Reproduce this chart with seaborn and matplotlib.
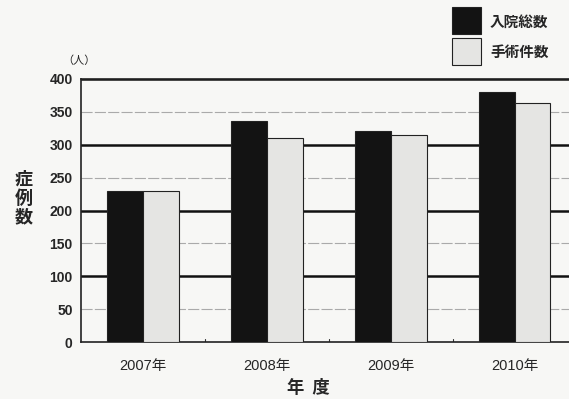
import matplotlib
matplotlib.use("Agg")
import matplotlib.pyplot as plt
import seaborn as sns
import pandas as pd
from matplotlib.patches import Rectangle

years = ["2007年", "2008年", "2009年", "2010年"]
admissions = [230, 336, 321, 380]
surgeries = [230, 311, 315, 364]
series_names = ["入院総数", "手術件数"]
y_ticks = [0, 50, 100, 150, 200, 250, 300, 350, 400]

sns.set_theme(style="white")
plt.rcParams['font.family'] = ['Liberation Sans', 'Noto Sans CJK JP', 'DejaVu Sans']
CJK = ['Noto Sans CJK JP', 'DejaVu Sans']

df = pd.DataFrame({
    "年度": years * 2,
    "症例数": admissions + surgeries,
    "種別": [series_names[0]] * len(years) + [series_names[1]] * len(years),
})

bg = "#f7f7f5"
fig = plt.figure(figsize=(5.69, 3.99), dpi=100, facecolor=bg)
ax = fig.add_axes([81/569, 1 - 342/399, 1 - 81/569, (342 - 79)/399])
ax.set_facecolor(bg)

sns.barplot(data=df, x="年度", y="症例数", hue="種別", ax=ax,
            palette=["#131313", "#e5e5e3"], width=0.58, saturation=1,
            edgecolor="#222222", linewidth=0.8, legend=False, zorder=3)

for v in y_ticks[1:]:
    if v % 100 == 0:
        ax.axhline(v, color="#111111", lw=1.8, zorder=1)
    else:
        ax.axhline(v, color="#aaaaaa", lw=0.8, ls=(0, (10, 2)), zorder=1)

ax.set_ylim(0, 400)
ax.set_xlim(-0.5, 3.44)
ax.set_yticks(y_ticks)
ax.set_yticklabels([str(v) for v in y_ticks], fontsize=10, fontweight="bold")
ax.set_xticks(range(len(years)))
ax.set_xticklabels(years, fontsize=10.5)
ax.tick_params(axis="x", length=0, pad=12)
ax.tick_params(axis="y", length=0, pad=6)
for x in [0.5, 1.5, 2.5]:
    ax.plot([x, x], [0, 4], color="#333333", lw=0.8, zorder=2)
ax.set_xlabel("")
ax.set_ylabel("")
for s in ax.spines.values():
    s.set_color("#222222")
    s.set_linewidth(1.2)
ax.spines["right"].set_visible(False)

fig.text(24/569, 1 - 198/399, "症\n例\n数", ha="center", va="center",
         fontsize=13, fontweight="bold", linespacing=1.0, family=CJK)
fig.text(79/569, 1 - 61/399, "（人）", ha="center", va="center",
         fontsize=8, family=CJK)
fig.text(308/569, 1 - 388/399, "年  度", ha="center", va="center",
         fontsize=12.5, fontweight="bold", family=CJK)

# legend
fig.patches.append(Rectangle((452/569, 1 - 34/399), 29/569, 27/399,
                             transform=fig.transFigure, facecolor="#131313",
                             edgecolor="#222222", lw=0.8))
fig.patches.append(Rectangle((452/569, 1 - 65/399), 29/569, 27/399,
                             transform=fig.transFigure, facecolor="#e5e5e3",
                             edgecolor="#222222", lw=0.8))
fig.text(490/569, 1 - 22/399, series_names[0], ha="left", va="center",
         fontsize=10.5, fontweight="bold", family=CJK)
fig.text(490/569, 1 - 52/399, series_names[1], ha="left", va="center",
         fontsize=10.5, fontweight="bold", family=CJK)

fig.savefig("out.png", dpi=100, facecolor=bg)
